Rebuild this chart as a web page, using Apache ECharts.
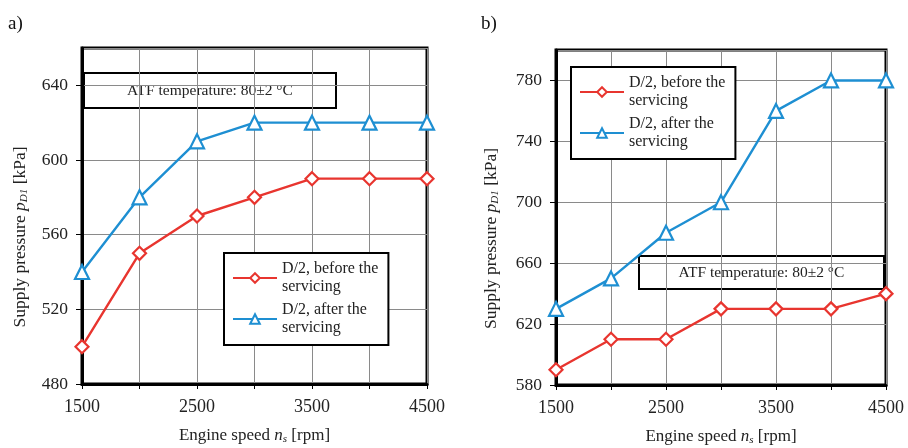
<!DOCTYPE html>
<html><head><meta charset="utf-8">
<script src="https://cdn.jsdelivr.net/npm/echarts@6/dist/echarts.min.js"></script>
<style>html,body{margin:0;padding:0;background:#fff}#c{width:908px;height:448px}</style>
</head><body><div id="c"></div>
<script>
const speeds = [1500, 2000, 2500, 3000, 3500, 4000, 4500];
const aBefore = [500, 550, 570, 580, 590, 590, 590];
const aAfter  = [540, 580, 610, 620, 620, 620, 620];
const bBefore = [590, 610, 610, 630, 630, 630, 640];
const bAfter  = [630, 650, 680, 700, 760, 780, 780];
const xTickLabels = [1500, 2500, 3500, 4500];
const nameBefore = 'D/2, before the\nservicing';
const nameAfter = 'D/2, after the\nservicing';
const tempText = 'ATF temperature: 80\u00b12 \u00b0C';

const RED = '#e8352f', BLUE = '#1e8fd2';
const FONT = '"Liberation Serif", "DejaVu Serif", serif';
const pair = ys => speeds.map((x, i) => [x, ys[i]]);

const chart = echarts.init(document.getElementById('c'), null, {renderer: 'canvas'});

function rich(sz) {
  return {
    n: {fontFamily: FONT, fontSize: sz, color: '#222'},
    i: {fontFamily: FONT, fontSize: sz, fontStyle: 'italic', color: '#222'},
    s: {fontFamily: FONT, fontSize: Math.round(sz * 0.65), fontStyle: 'italic', color: '#222', padding: [Math.round(sz * 0.45), 0, 0, 0]}
  };
}
function xAx(idx) {
  return {
    type: 'value', gridIndex: idx, min: 1500, max: 4500, interval: 500,
    name: '{n|Engine speed }{i|n}{s|s}{n| [rpm]}',
    nameLocation: 'middle', nameGap: 42,
    nameTextStyle: {rich: rich(17)},
    axisLine: {show: true, lineStyle: {color: '#000', width: 3}},
    axisTick: {show: true, length: 5, lineStyle: {color: '#000'}},
    axisLabel: {
      fontFamily: FONT, fontSize: 18, color: '#222', margin: 14,
      formatter: v => xTickLabels.indexOf(v) >= 0 ? String(v) : ''
    },
    splitLine: {show: true, lineStyle: {color: '#8a8a8a', width: 1}}
  };
}
function yAx(idx, min, max, gap) {
  return {
    type: 'value', gridIndex: idx, min: min, max: max, interval: 40,
    name: '{n|Supply pressure }{i|p}{s|D1}{n| [kPa]}',
    nameLocation: 'middle', nameGap: gap,
    nameTextStyle: {rich: rich(17.5), padding: [0, 42, 0, 0]},
    axisLine: {show: true, lineStyle: {color: '#000', width: 3}},
    axisTick: {show: true, length: 6, lineStyle: {color: '#000'}},
    axisLabel: {fontFamily: FONT, fontSize: 17.5, color: '#222', margin: 14, showMaxLabel: false},
    splitLine: {show: true, lineStyle: {color: '#8a8a8a', width: 1}}
  };
}
function ser(name, data, idx, color, symbol) {
  return {
    type: 'line', name: name, xAxisIndex: idx, yAxisIndex: idx, data: pair(data),
    symbol: symbol, symbolSize: symbol === 'triangle' ? 14 : 13,
    lineStyle: {color: color, width: 2.4},
    itemStyle: {color: '#fff', borderColor: color, borderWidth: 2.2},
    emphasis: {disabled: true}, animation: false
  };
}
const legendCommon = {
  orient: 'vertical', itemWidth: 44, itemHeight: 12, itemGap: 5,
  borderColor: '#000', borderWidth: 2, padding: [7, 10, 8, 8],
  backgroundColor: '#fff', selectedMode: false,
  textStyle: {fontFamily: FONT, fontSize: 16, color: '#222', lineHeight: 18},
  data: [nameBefore, nameAfter]
};
function tempBox(l, t, w, h) {
  return {
    type: 'group', left: l, top: t, z: 100,
    children: [
      {type: 'rect', shape: {x: 0, y: 0, width: w, height: h},
       style: {fill: '#fff', stroke: '#000', lineWidth: 2}},
      {type: 'text', x: w / 2, y: h / 2,
       style: {text: tempText, fontFamily: FONT, fontSize: 15.5, fill: '#222', align: 'center', verticalAlign: 'middle'}}
    ]
  };
}
chart.setOption({
  backgroundColor: '#fff',
  animation: false,
  grid: [
    {left: 82, top: 48, width: 345, height: 336, show: true, borderColor: '#000', borderWidth: 3, containLabel: false, outerBoundsMode: 'none'},
    {left: 556, top: 50, width: 330, height: 335, show: true, borderColor: '#000', borderWidth: 3, containLabel: false, outerBoundsMode: 'none'}
  ],
  xAxis: [xAx(0), xAx(1)],
  yAxis: [yAx(0, 480, 660, 52), yAx(1, 580, 800, 55)],
  legend: [
    Object.assign({left: 224, top: 253}, legendCommon),
    Object.assign({left: 571, top: 67}, legendCommon)
  ],
  graphic: [
    {type: 'text', left: 8, top: 15, style: {text: 'a)', fontFamily: FONT, fontSize: 19, fill: '#111'}},
    {type: 'text', left: 481, top: 15, style: {text: 'b)', fontFamily: FONT, fontSize: 19, fill: '#111'}},
    tempBox(83, 72, 252, 35),
    tempBox(638, 255, 245, 33)
  ],
  series: [
    ser(nameBefore, aBefore, 0, RED, 'diamond'),
    ser(nameAfter, aAfter, 0, BLUE, 'triangle'),
    ser(nameBefore, bBefore, 1, RED, 'diamond'),
    ser(nameAfter, bAfter, 1, BLUE, 'triangle')
  ]
});
</script></body></html>
